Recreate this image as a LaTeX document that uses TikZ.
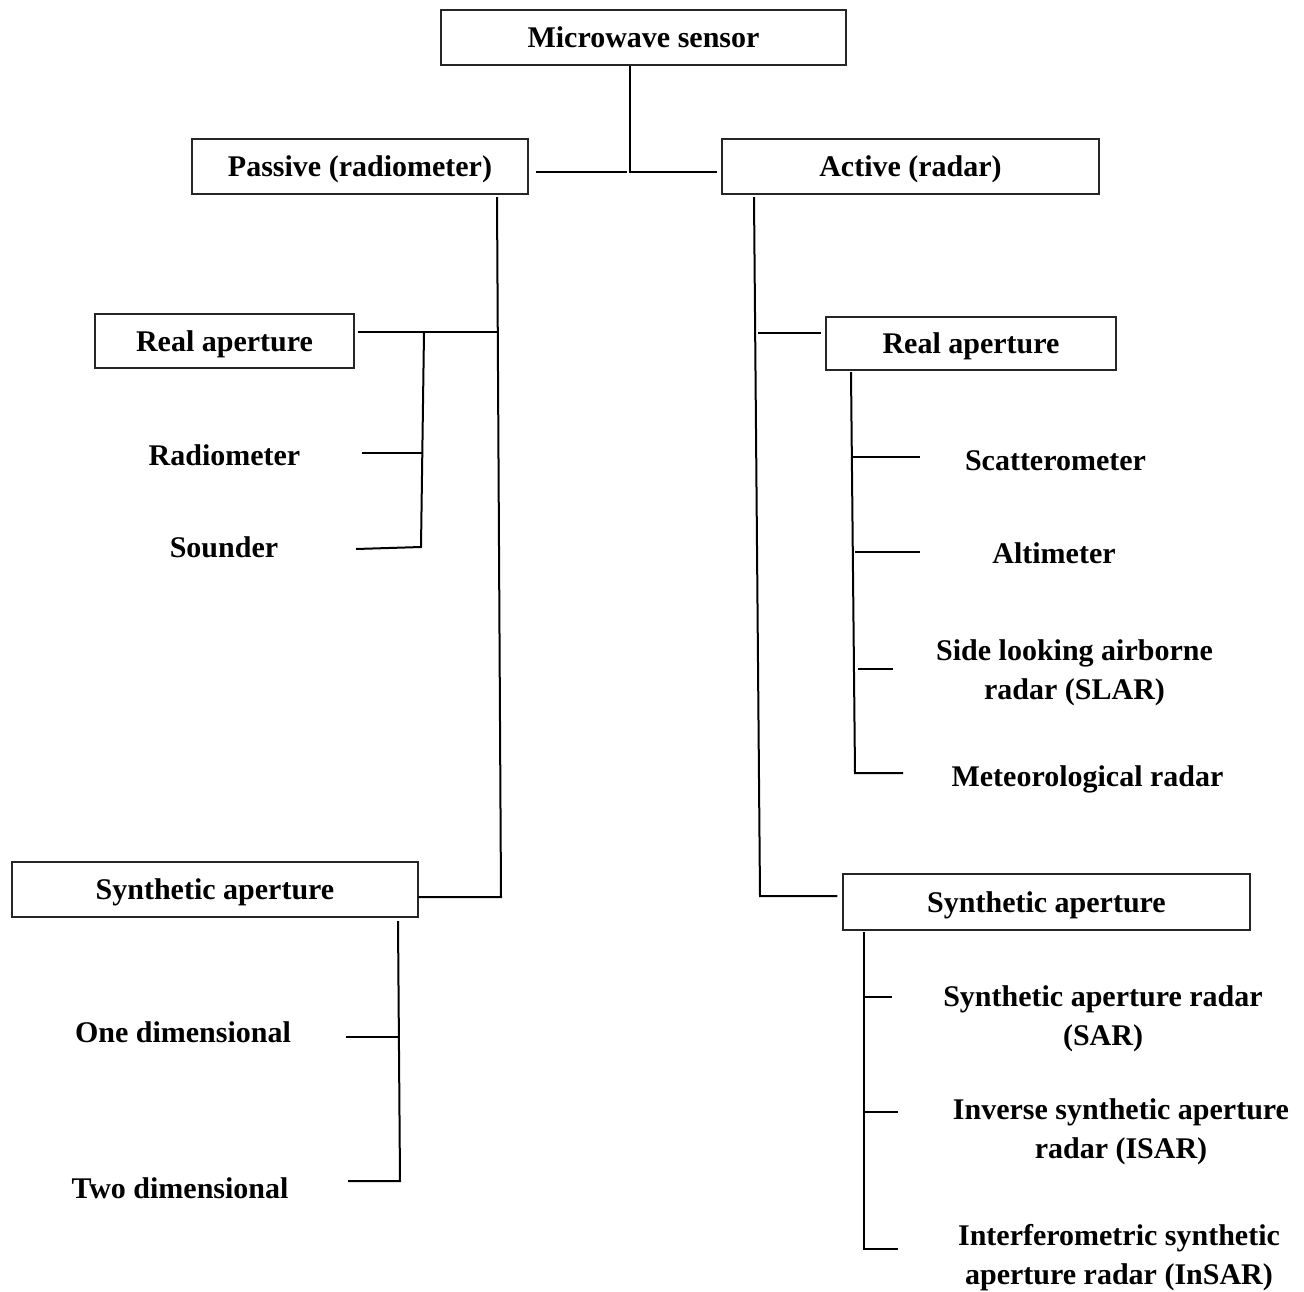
\documentclass[tikz,border=0pt]{standalone}
\usepackage{fontspec}
\setmainfont{Liberation Serif}
\begin{document}
\begin{tikzpicture}[x=1pt, y=-1pt,
    box/.style={draw=black!85, line width=1.1pt, minimum height=55pt, inner sep=0pt,
      text height=24pt, text depth=4pt, font=\fontsize{30}{39}\selectfont\bfseries},
    leaf/.style={align=center, inner sep=0pt, font=\fontsize{30}{39}\selectfont\bfseries},
    link/.style={line width=2pt}]
    \useasboundingbox (0,0) rectangle (1304,1291);
    % Boxes
    \node[box, minimum width=405pt] (ms) at (643.5,37.5) {Microwave sensor};
    \node[box, minimum width=336pt] (passive) at (360,166.5) {Passive (radiometer)};
    \node[box, minimum width=377pt] (active) at (910.5,166.5) {Active (radar)};
    \node[box, minimum width=259pt, minimum height=54pt] (realP) at (224.5,341) {Real aperture};
    \node[box, minimum width=406pt] (synP) at (215,889.5) {Synthetic aperture};
    \node[box, minimum width=290pt, minimum height=53pt] (realA) at (971,343.5) {Real aperture};
    \node[box, minimum width=407pt, minimum height=56pt] (synA) at (1046.5,902) {Synthetic aperture};
    % Leaves
    \node[leaf] (radio) at (224.5,455) {Radiometer};
    \node[leaf] (sound) at (224,547) {Sounder};
    \node[leaf] (onedim) at (183,1032) {One dimensional};
    \node[leaf] (twodim) at (180,1188) {Two dimensional};
    \node[leaf] (scat) at (1055.5,461) {Scatterometer};
    \node[leaf] (alt) at (1054,553) {Altimeter};
    \node[leaf] (slar) at (1074.5,673) {Side looking airborne\\radar (SLAR)};
    \node[leaf] (met) at (1087.5,779) {Meteorological radar};
    \node[leaf] (sar) at (1103,1019) {Synthetic aperture radar\\(SAR)};
    \node[leaf] (isar) at (1121,1132) {Inverse synthetic aperture\\radar (ISAR)};
    \node[leaf] (insar) at (1119,1258) {Interferometric synthetic\\aperture radar (InSAR)};
    % Root
    \coordinate (j0) at (630,172);
    \draw[link] (ms.south -| j0) -- (j0) -- ([xshift=-4pt]j0 -| active.west);
    \draw[link] ([xshift=7pt]j0 -| passive.east) -- ([xshift=-3pt]j0);
    % Passive
    \coordinate (pT) at (497,197);
    \coordinate (pB) at (501,897);
    \coordinate (pR) at (497.5,332);
    \draw[link] (pT) -- (pB) -- (pB -| synP.east);
    \draw[link] ([xshift=3pt]pR -| realP.east) -- (pR);
    % Real aperture (passive)
    \coordinate (rpT) at (424,332);
    \coordinate (rpB) at (421,547);
    \draw[link] (rpT) -- (rpB) -- ++(-65,2);
    \draw[link] ([xshift=1pt,yshift=2pt]rpB |- radio) -- ++(-60,0);
    % Synthetic aperture (passive)
    \coordinate (spT) at (398,921);
    \coordinate (spB) at (400,1181);
    \draw[link] (spT) -- (spB) -- ++(-52,0);
    \draw[link] ([xshift=1pt,yshift=-5pt]spT |- onedim) -- ++(-53,0);
    % Active
    \coordinate (aT) at (754,197);
    \coordinate (aB) at (760,896);
    \coordinate (aR) at (758,333);
    \draw[link] (aT) -- (aB) -- ([xshift=-5pt]aB -| synA.west);
    \draw[link] (aR) -- ([xshift=-4pt]aR -| realA.west);
    % Real aperture (active)
    \coordinate (raT) at (851,372);
    \draw[link] (raT) -- ([xshift=4pt,yshift=6pt]raT |- met) -- ++(48,0);
    \foreach \n/\dx/\dy/\len in {scat/1/4/68, alt/4/1/65, slar/7/4/35}
        \draw[link] ([xshift=\dx pt,yshift=\dy pt]raT |- \n) -- ++(\len,0);
    % Synthetic aperture (active)
    \coordinate (saT) at (864,932);
    \draw[link] (saT) -- ([yshift=9pt]saT |- insar) -- ++(34,0);
    \foreach \n/\dy/\len in {sar/22/28, isar/20/34}
        \draw[link] ([yshift=\dy pt]saT |- \n) -- ++(\len,0);
\end{tikzpicture}
\end{document}
